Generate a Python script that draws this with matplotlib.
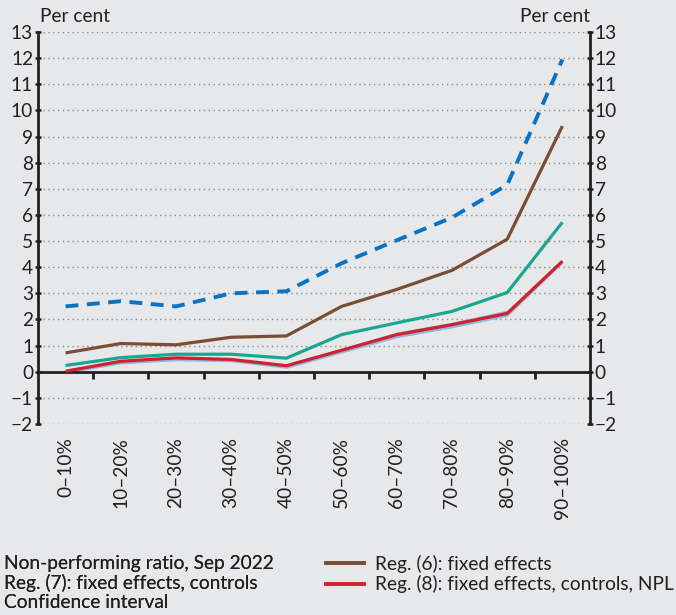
import matplotlib
matplotlib.use("Agg")
import matplotlib.pyplot as plt
from matplotlib.lines import Line2D
import numpy as np

categories = ["0–10%", "10–20%", "20–30%", "30–40%", "40–50%",
              "50–60%", "60–70%", "70–80%", "80–90%", "90–100%"]
npr_sep2022 = [2.5, 2.7, 2.5, 3.0, 3.08, 4.15, 5.03, 5.9, 7.15, 11.95]
reg6 = [0.72, 1.08, 1.03, 1.32, 1.37, 2.5, 3.15, 3.88, 5.07, 9.4]
reg7 = [0.24, 0.54, 0.67, 0.67, 0.52, 1.42, 1.87, 2.31, 3.03, 5.72]
reg8 = [0.02, 0.4, 0.53, 0.47, 0.23, 0.82, 1.42, 1.8, 2.23, 4.23]
ci_low = [-0.06, 0.3, 0.42, 0.38, 0.13, 0.72, 1.3, 1.68, 2.12, 4.15]
ci_high = [0.04, 0.44, 0.57, 0.52, 0.3, 0.9, 1.52, 1.9, 2.36, 4.28]
yticks = list(range(-2, 14))

plt.rcParams['font.family'] = ['Lato', 'DejaVu Sans']
FS = 13.8
txt = '#231f20'
bg = '#e7e8ea'
fig = plt.figure(figsize=(6.76, 6.15), dpi=100, facecolor=bg)
ax = fig.add_axes([38/676, 1-424/615, (590-38)/676, (424-32)/615])
ax.set_facecolor(bg)
x = np.arange(len(categories))

for v in yticks:
    if v != 0:
        ax.axhline(v, color='#8a8a8a', lw=1.0, ls=(0, (1, 2.5)), zorder=1)

ax.fill_between(x, ci_low, ci_high, color='#8db8df', lw=0, zorder=2)
ax.plot(x, reg6, color='#7a4e33', lw=2.3, zorder=3, solid_capstyle='butt')
ax.plot(x, reg7, color='#1aa690', lw=2.3, zorder=3, solid_capstyle='butt')
ax.plot(x, reg8, color='#d0212d', lw=2.3, zorder=4, solid_capstyle='butt')
ax.plot(x, npr_sep2022, color='#0b73c3', lw=2.8, ls=(0, (3.3, 2.2)), zorder=5)

ax.set_xlim(-0.5, len(categories) - 0.5)
ax.set_ylim(-2, 13)
ax.set_yticks(yticks)
ax.set_yticklabels([str(v).replace('-', '−') for v in yticks])
ax.tick_params(axis='y', which='both', direction='inout', length=5, width=1.8,
               labelsize=FS, left=True, right=True, labelleft=True, labelright=True,
               pad=1, colors=txt)

for s in ['left', 'right']:
    ax.spines[s].set_linewidth(2)
    ax.spines[s].set_color(txt)
ax.spines['top'].set_visible(False)
ax.spines['bottom'].set_position(('data', 0))
ax.spines['bottom'].set_linewidth(2)
ax.spines['bottom'].set_color(txt)
ax.spines['bottom'].set_zorder(2.5)

ax.set_xticks(x)
ax.set_xticklabels(categories, rotation=90, va='top', ha='center')
ax.set_xticks(np.arange(0.5, len(categories) - 1, 1.0), minor=True)
ax.tick_params(axis='x', which='major', length=0, pad=47, labelsize=FS, colors=txt)
ax.tick_params(axis='x', which='minor', direction='out', length=5, width=2, color=txt)

fig.text(40/676, 1-17/615, 'Per cent', fontsize=FS, ha='left', va='center', color=txt)
fig.text(590/676, 1-17/615, 'Per cent', fontsize=FS, ha='right', va='center', color=txt)

left_handles = [Line2D([], [], alpha=0) for _ in range(3)]
leg1 = fig.legend(left_handles,
                  ['Non-performing ratio, Sep 2022', 'Reg. (7): fixed effects, controls',
                   'Confidence interval'],
                  loc='upper left', bbox_to_anchor=(0.0, 1-551/615), frameon=False,
                  handlelength=0, handletextpad=0, fontsize=FS, labelspacing=0.12,
                  borderaxespad=0, borderpad=0.2)
right_handles = [Line2D([], [], color='#7a4e33', lw=2.8),
                 Line2D([], [], color='#d0212d', lw=2.8)]
leg2 = fig.legend(right_handles,
                  ['Reg. (6): fixed effects', 'Reg. (8): fixed effects, controls, NPL'],
                  loc='upper left', bbox_to_anchor=(322/676, 1-551/615), frameon=False,
                  handlelength=2.0, handletextpad=0.55, fontsize=FS, labelspacing=0.12,
                  borderaxespad=0, borderpad=0.2)
for leg in (leg1, leg2):
    for t in leg.get_texts():
        t.set_color(txt)
fig.add_artist(leg1)

fig.savefig('out.png', dpi=100, facecolor=bg)
